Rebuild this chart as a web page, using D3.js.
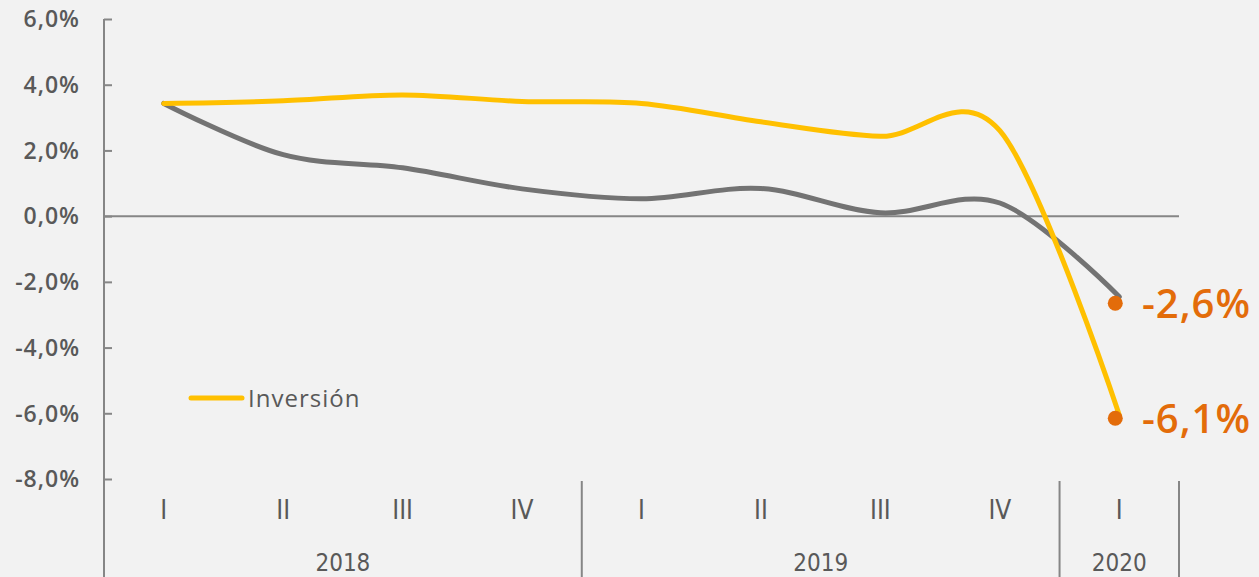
<!DOCTYPE html>
<html>
<head>
<meta charset="utf-8">
<script src="https://cdn.jsdelivr.net/npm/d3@7"></script>
<style>
  html, body { margin: 0; padding: 0; background: #F2F2F2; }
  svg { display: block; }
</style>
</head>
<body>
<svg id="chart" width="1259" height="577"></svg>
<script>
// ---- data ----
const quarters = ["I", "II", "III", "IV", "I", "II", "III", "IV", "I"];
const years = ["2018", "2019", "2020"];
const yearSpans = [4, 4, 1];
const inversion = [3.43, 3.51, 3.69, 3.49, 3.43, 2.87, 2.43, 2.6, -6.05];
const otherSeries = [3.43, 1.87, 1.47, 0.83, 0.53, 0.84, 0.1, 0.4, -2.45];
const highlightValues = [-2.65, -6.15];
const highlightLabels = ["-2,6%", "-6,1%"];
const yTicks = [6, 4, 2, 0, -2, -4, -6, -8];
const legendLabel = "Inversión";

(function () {
// ---- layout ----
const W = 1259, H = 577;
const mLeft = 104, mRight = 1179, mTop = 19, mBottom = 479;
const svg = d3.select("#chart");
svg.append("rect").attr("width", W).attr("height", H).attr("fill", "#F2F2F2");

const x = d3.scaleBand().domain(d3.range(quarters.length)).range([mLeft, mRight]).padding(0);
const y = d3.scaleLinear().domain([-8, 6]).range([mBottom, mTop]);
const cx = i => x(i) + x.bandwidth() / 2;

const axisColor = "#868686";
const textColor = "#595959";
const tickFont = "'Open Sans', sans-serif";
const narrowFont = "'Liberation Sans Narrow', 'Arial Narrow', 'DejaVu Sans Condensed', sans-serif";

// y axis
const yAxis = d3.axisRight(y).tickValues(yTicks).tickSize(8).tickFormat("");
const gy = svg.append("g").attr("transform", `translate(${mLeft},0)`).call(yAxis);
gy.select(".domain").remove();
gy.selectAll(".tick line").attr("stroke", axisColor).attr("stroke-width", 2);
svg.append("line").attr("x1", mLeft).attr("x2", mLeft).attr("y1", mTop).attr("y2", H)
  .attr("stroke", axisColor).attr("stroke-width", 2);

svg.append("g").selectAll("text").data(yTicks).join("text")
  .attr("x", 80).attr("y", d => y(d)).attr("dy", "0.36em")
  .attr("text-anchor", "end")
  .attr("font-family", tickFont).attr("font-weight", 600).attr("font-size", 23)
  .attr("letter-spacing", 1)
  .attr("fill", textColor)
  .text(d => d.toFixed(1).replace(".", ",") + "%");

// zero line
svg.append("line").attr("x1", mLeft).attr("x2", mRight).attr("y1", y(0)).attr("y2", y(0))
  .attr("stroke", axisColor).attr("stroke-width", 2);

// category separators
let acc = 0;
const sepIdx = [];
yearSpans.forEach(s => { acc += s; sepIdx.push(acc); });
svg.append("g").selectAll("line").data(sepIdx).join("line")
  .attr("x1", d => d < quarters.length ? x(d) : mRight)
  .attr("x2", d => d < quarters.length ? x(d) : mRight)
  .attr("y1", 481).attr("y2", H)
  .attr("stroke", axisColor).attr("stroke-width", 2);

// quarter labels
svg.append("g").selectAll("text").data(quarters).join("text")
  .attr("x", (d, i) => cx(i)).attr("y", 519)
  .attr("text-anchor", "middle")
  .attr("font-family", narrowFont).attr("font-size", 26)
  .attr("fill", textColor)
  .text(d => d);

// year labels
let start = 0;
const yearPos = years.map((yr, k) => {
  const s = start, e = start + yearSpans[k];
  start = e;
  const x0 = x(s), x1 = e < quarters.length ? x(e) : mRight;
  return { yr, mid: (x0 + x1) / 2 };
});
svg.append("g").selectAll("text").data(yearPos).join("text")
  .attr("x", d => d.mid).attr("y", 571)
  .attr("text-anchor", "middle")
  .attr("font-family", narrowFont).attr("font-size", 24)
  .attr("fill", textColor)
  .text(d => d.yr);

// lines
const line = d3.line().x((d, i) => cx(i)).y(d => y(d)).curve(d3.curveCardinal.tension(0));
svg.append("path").datum(otherSeries).attr("d", line)
  .attr("fill", "none").attr("stroke", "#737373").attr("stroke-width", 5)
  .attr("stroke-linecap", "round").attr("stroke-linejoin", "round");
svg.append("path").datum(inversion).attr("d", line)
  .attr("fill", "none").attr("stroke", "#FFC000").attr("stroke-width", 5)
  .attr("stroke-linecap", "round").attr("stroke-linejoin", "round");

// highlight dots and labels
const last = quarters.length - 1;
svg.append("g").selectAll("circle").data(highlightValues).join("circle")
  .attr("cx", cx(last) - 4).attr("cy", d => y(d)).attr("r", 7.5)
  .attr("fill", "#E36C0A");
svg.append("g").selectAll("text").data(highlightValues).join("text")
  .attr("x", 1142).attr("y", d => y(d)).attr("dy", "0.36em")
  .attr("font-family", tickFont).attr("font-weight", 600).attr("font-size", 40)
  .attr("letter-spacing", 1)
  .attr("fill", "#E36C0A")
  .text((d, i) => highlightLabels[i]);

// legend
svg.append("line").attr("x1", 191).attr("x2", 242).attr("y1", 398).attr("y2", 398)
  .attr("stroke", "#FFC000").attr("stroke-width", 5).attr("stroke-linecap", "round");
svg.append("text").attr("x", 248).attr("y", 398).attr("dy", "0.36em")
  .attr("font-family", tickFont).attr("font-weight", 500).attr("font-size", 24)
  .attr("letter-spacing", 1)
  .attr("fill", textColor)
  .text(legendLabel);
})();
</script>
</body>
</html>
